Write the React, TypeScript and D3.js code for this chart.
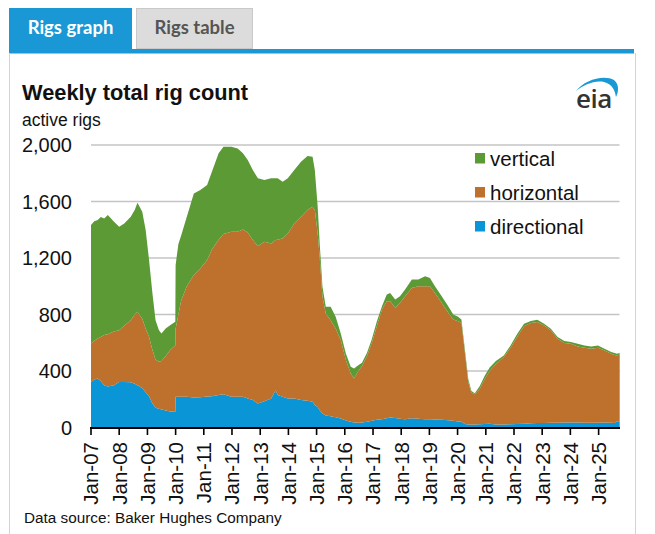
import React, { useEffect, useRef } from "react";
import * as d3 from "d3";

// weekly rig counts (approximate sample points)
const dates = [
  "2007-01-01", "2007-02-13", "2007-03-29", "2007-05-08", "2007-06-21", "2007-08-07", "2007-10-26",
  "2008-01-01", "2008-03-07", "2008-05-30", "2008-07-20", "2008-08-25", "2008-10-26", "2008-12-09",
  "2009-01-22", "2009-03-07", "2009-04-16", "2009-05-30", "2009-07-02", "2009-08-25", "2009-10-26", "2009-12-28",
  "2010-01-01", "2010-02-06", "2010-03-14", "2010-05-26", "2010-08-25", "2010-11-17",
  "2011-02-13", "2011-04-16", "2011-07-12", "2011-09-13", "2011-12-24",
  "2012-03-14", "2012-05-22", "2012-07-23", "2012-09-27", "2012-12-02",
  "2013-02-24", "2013-05-22", "2013-07-20", "2013-08-14", "2013-10-19", "2013-12-24",
  "2014-03-18", "2014-06-13", "2014-09-05", "2014-11-10", "2014-12-09",
  "2015-01-15", "2015-02-13", "2015-03-18", "2015-04-30", "2015-07-02", "2015-09-05", "2015-11-10",
  "2016-01-15", "2016-03-18", "2016-04-30", "2016-06-24", "2016-08-11", "2016-10-15", "2016-12-16",
  "2017-02-20", "2017-04-27", "2017-06-28", "2017-08-11", "2017-10-15", "2017-12-16",
  "2018-02-20", "2018-05-19", "2018-08-11", "2018-11-06",
  "2019-01-08", "2019-03-14", "2019-06-10", "2019-09-02", "2019-11-06",
  "2020-01-08", "2020-02-20", "2020-04-05", "2020-05-19", "2020-06-28", "2020-08-11", "2020-10-15", "2020-12-16",
  "2021-02-20", "2021-05-11", "2021-08-22", "2021-11-17",
  "2022-02-13", "2022-05-11", "2022-08-07", "2022-10-30",
  "2023-01-26", "2023-04-23", "2023-07-20", "2023-10-15",
  "2024-01-08", "2024-04-05", "2024-07-02", "2024-09-27", "2024-12-24",
  "2025-03-18", "2025-06-13", "2025-08-07", "2025-08-25", "2025-10-01",
];

const directional = [
  323, 340, 347, 330, 300, 290, 300,
  323, 323, 320, 310, 300, 280, 250,
  220, 170, 140, 132, 127, 120, 113, 111,
  217, 217, 217, 217, 212, 215,
  220, 222, 230, 236, 217,
  217, 217, 205, 194, 170,
  185, 205, 264, 230, 217, 205,
  205, 194, 190, 182, 160,
  146, 120, 99, 85, 80, 72, 64,
  50, 40, 35, 33, 35, 40, 47,
  55, 59, 65, 71, 68, 62,
  59, 66, 62, 59,
  59, 57, 54, 52, 48,
  42, 40, 24, 22, 21, 21, 23, 24,
  27, 22, 21, 23,
  25, 27, 30, 31,
  32, 33, 34, 35,
  35, 35, 34, 33, 34,
  35, 33, 31, 45, 45,
];

const horizontal = [
  272, 275, 283, 310, 354, 370, 380,
  366, 397, 440, 490, 519, 490, 450,
  420, 378, 340, 333, 343, 385, 437, 469,
  483, 583, 683, 783, 868, 911,
  965, 1038, 1100, 1134, 1169,
  1169, 1185, 1175, 1133, 1114,
  1130, 1098, 1063, 1100, 1122, 1169,
  1240, 1298, 1349, 1381, 1379,
  1228, 1065, 827, 722, 680, 629, 555,
  427, 342, 312, 367, 400, 466, 553,
  663, 776, 829, 823, 779, 820,
  870, 922, 938, 941,
  941, 896, 828, 760, 717,
  711, 701, 505, 296, 226, 214, 252, 317,
  373, 425, 478, 542,
  620, 689, 710, 716,
  691, 655, 595, 563,
  558, 539, 531, 525, 531,
  511, 489, 481, 465, 472,
];

const vertical = [
  838, 845, 839, 850, 826, 844, 777,
  732, 725, 732, 740, 772, 757, 698,
  545, 401, 280, 224, 196, 196, 175, 168,
  450, 500, 460, 492, 577, 555,
  531, 551, 611, 618, 602,
  590, 539, 514, 496, 480,
  437, 461, 437, 434, 401, 390,
  378, 390, 383, 354, 284,
  189, 95, 70, 48, 95, 83, 47,
  47, 48, 71, 40, 24, 23, 24,
  35, 24, 47, 59, 59, 47,
  48, 59, 47, 71,
  59, 47, 47, 47, 35,
  31, 24, 24, 23, 12, 7, 19, 24,
  24, 23, 11, 16,
  19, 19, 14, 16,
  12, 11, 11, 14,
  12, 19, 16, 16, 16,
  12, 12, 13, 12, 10,
];

const seriesKeys = ["directional", "horizontal", "vertical"];
const seriesColors = ["#0a96d6", "#bd712d", "#5c9a36"];
const legendOrder = ["vertical", "horizontal", "directional"];
const yTicks = [0, 400, 800, 1200, 1600, 2000];
const tickYears = d3.range(2007, 2026);

const W = 655;
const H = 534;
const plot = { left: 91, right: 619.5, top: 145, bottom: 427.5 };
const font = "'Liberation Sans', Arial, sans-serif";

export default function App() {
  const ref = useRef<SVGSVGElement | null>(null);

  useEffect(() => {
    const svg = d3.select(ref.current);
    svg.selectAll("*").remove();

    const parse = d3.utcParse("%Y-%m-%d");
    const rows = dates.map((d, i) => ({
      date: parse(d) as Date,
      directional: directional[i],
      horizontal: horizontal[i],
      vertical: vertical[i],
    }));

    const x = d3
      .scaleUtc()
      .domain([new Date(Date.UTC(2007, 0, 1)), new Date(Date.UTC(2026, 0, 1))])
      .range([plot.left, plot.left + 19 * 28.2]);
    const y = d3.scaleLinear().domain([0, 2000]).range([plot.bottom, plot.top]);
    const color = d3.scaleOrdinal<string>().domain(seriesKeys).range(seriesColors);

    // tabs and frame
    svg.append("rect").attr("x", 9).attr("y", 8).attr("width", 123).attr("height", 41).attr("fill", "#1a98d5");
    svg.append("rect").attr("x", 136.5).attr("y", 8.5).attr("width", 116).attr("height", 40)
      .attr("fill", "#dcdcdc").attr("stroke", "#c9c9c9");
    svg.append("text").attr("x", 70.5).attr("y", 34).attr("text-anchor", "middle")
      .attr("font-family", "Lato, 'Open Sans', sans-serif").attr("font-weight", 700)
      .attr("font-size", 18.5).attr("fill", "#fff").text("Rigs graph");
    svg.append("text").attr("x", 194.5).attr("y", 34).attr("text-anchor", "middle")
      .attr("font-family", "Lato, 'Open Sans', sans-serif").attr("font-weight", 700)
      .attr("font-size", 18.5).attr("fill", "#555").text("Rigs table");
    svg.append("rect").attr("x", 9).attr("y", 49).attr("width", 625).attr("height", 4.5).attr("fill", "#1a98d5");
    svg.append("path").attr("d", `M9.5,53V${H}M635.5,53V${H}`).attr("stroke", "#d4d4d4").attr("fill", "none");

    // titles
    svg.append("text").attr("x", 22).attr("y", 100).attr("font-family", font).attr("font-weight", 700)
      .attr("font-size", 21.8).attr("fill", "#111").text("Weekly total rig count");
    svg.append("text").attr("x", 22).attr("y", 126).attr("font-family", font)
      .attr("font-size", 17.5).attr("fill", "#111").text("active rigs");

    // eia logo
    svg.append("path")
      .attr("d", "M576,91 C584,80 604,74 614,80 C619,84 619,91 616,97 C615,90 612,84 604,82 C594,80 584,85 576,91 Z")
      .attr("fill", "#1a98d5");
    svg.append("text").attr("x", 576).attr("y", 108).attr("font-family", "'Open Sans', sans-serif")
      .attr("font-weight", 600).attr("font-size", 26).attr("letter-spacing", -0.5).attr("fill", "#333")
      .text("eia");

    // gridlines
    svg.append("g")
      .selectAll("line")
      .data(yTicks.filter((t) => t > 0))
      .join("line")
      .attr("x1", plot.left)
      .attr("x2", plot.right)
      .attr("y1", (d) => y(d))
      .attr("y2", (d) => y(d))
      .attr("stroke", "#c4c4c4")
      .attr("stroke-width", 1.6);

    // stacked areas
    const stacked = d3.stack<any>().keys(seriesKeys)(rows);
    const area = d3
      .area<any>()
      .x((d) => x(d.data.date))
      .y0((d) => y(d[0]))
      .y1((d) => y(d[1]));
    svg.append("g")
      .selectAll("path")
      .data(stacked)
      .join("path")
      .attr("fill", (d) => color(d.key))
      .attr("d", area as any);

    // y labels
    svg.append("g")
      .selectAll("text")
      .data(yTicks)
      .join("text")
      .attr("x", 72)
      .attr("y", (d) => y(d))
      .attr("dy", "0.36em")
      .attr("text-anchor", "end")
      .attr("font-family", font)
      .attr("font-size", 20)
      .attr("fill", "#111")
      .text((d) => d3.format(",")(d));

    // x axis
    const xAxis = svg.append("g");
    xAxis.append("line").attr("x1", plot.left - 1).attr("x2", plot.right + 0.5)
      .attr("y1", 428).attr("y2", 428).attr("stroke", "#000").attr("stroke-width", 2.2);
    const tickDates = tickYears.map((yr) => new Date(Date.UTC(yr, 0, 1)));
    xAxis.selectAll("line.tick")
      .data(tickDates)
      .join("line")
      .attr("class", "tick")
      .attr("x1", (d) => x(d))
      .attr("x2", (d) => x(d))
      .attr("y1", 428)
      .attr("y2", 435)
      .attr("stroke", "#000")
      .attr("stroke-width", 1.6);
    xAxis.selectAll("text")
      .data(tickDates)
      .join("text")
      .attr("transform", (d) => `translate(${x(d)},442) rotate(-90)`)
      .attr("dy", "0.36em")
      .attr("text-anchor", "end")
      .attr("font-family", font)
      .attr("font-size", 20.5)
      .attr("fill", "#111")
      .text((d) => d3.utcFormat("%b-%y")(d));

    // legend
    const legend = svg.append("g").selectAll("g").data(legendOrder).join("g")
      .attr("transform", (_, i) => `translate(475,${153 + i * 34})`);
    legend.append("rect").attr("width", 10).attr("height", 10.5).attr("fill", (d) => color(d));
    legend.append("text").attr("x", 15).attr("y", 13).attr("font-family", font)
      .attr("font-size", 20.5).attr("fill", "#111").text((d) => d);

    // source
    svg.append("text").attr("x", 24).attr("y", 523).attr("font-family", font)
      .attr("font-size", 15.3).attr("fill", "#111").text("Data source: Baker Hughes Company");
  }, []);

  return (
    <svg
      ref={ref}
      width={W}
      height={H}
      style={{ position: "absolute", left: 0, top: 0, background: "#fff" }}
    />
  );
}
